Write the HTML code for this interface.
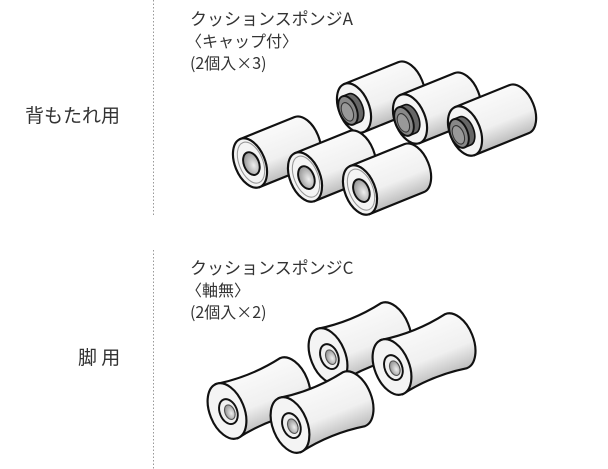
<!DOCTYPE html>
<html><head><meta charset="utf-8"><style>
html,body{margin:0;padding:0;background:#fff;}
body{width:608px;height:469px;overflow:hidden;position:relative;color:#333;}
</style></head><body>
<svg width="608" height="469" viewBox="0 0 608 469" xmlns="http://www.w3.org/2000/svg" style="position:absolute;left:0;top:0" font-family="'Noto Sans CJK JP','Liberation Sans',sans-serif">
<defs>
<linearGradient id="bg" x1="0" y1="0" x2="0" y2="1">
<stop offset="0" stop-color="#fafafa"/><stop offset="0.6" stop-color="#f0f0f0"/><stop offset="1" stop-color="#bdbdbd"/></linearGradient>
<radialGradient id="hole" cx="0.6" cy="0.6" r="0.7"><stop offset="0" stop-color="#eee"/><stop offset="1" stop-color="#888"/></radialGradient>
<g id="cyl">
<path d="M0,-24 L54,-24 A14,24 0 0 1 54,24 L0,24 Z" fill="url(#bg)" stroke="#111" stroke-width="2"/>
<ellipse cx="0" cy="0" rx="14" ry="24" fill="#f4f4f4" stroke="#111" stroke-width="2"/>
<ellipse cx="1" cy="0" rx="11" ry="20" fill="none" stroke="#999" stroke-width="1"/>
<ellipse cx="1" cy="1" rx="7" ry="11" fill="url(#hole)" stroke="#111" stroke-width="1.8"/>
</g>
<g id="cap">
<path d="M0,-24 L54,-24 A14,24 0 0 1 54,24 L0,24 Z" fill="url(#bg)" stroke="#111" stroke-width="2"/>
<ellipse cx="0" cy="0" rx="14" ry="24" fill="#f4f4f4" stroke="#111" stroke-width="2"/>
<path d="M-6,-14 L0,-14 A8,14 0 0 1 0,14 L-6,14 Z" fill="#666" stroke="#111" stroke-width="1.5"/>
<ellipse cx="-6" cy="0" rx="8" ry="14" fill="#888" stroke="#111" stroke-width="1.8"/>
<ellipse cx="-7" cy="1" rx="5" ry="9" fill="#999" stroke="#333" stroke-width="1"/>
</g>
<g id="sp">
<path d="M0,-27 Q32,-21 64,-27 A16,27 0 0 1 64,27 Q32,21 0,27 Z" fill="url(#bg)" stroke="#111" stroke-width="2"/>
<ellipse cx="0" cy="0" rx="16" ry="27" fill="#f4f4f4" stroke="#111" stroke-width="2"/>
<ellipse cx="1" cy="1" rx="8" ry="12" fill="#f0f0f0" stroke="#111" stroke-width="1.8"/>
<ellipse cx="2" cy="2" rx="4.5" ry="7" fill="url(#hole)" stroke="#555" stroke-width="1"/>
</g>
</defs>
<line x1="153.5" y1="0" x2="153.5" y2="216" stroke="#999" stroke-width="1" stroke-dasharray="1.5,2"/>
<line x1="153.5" y1="250" x2="153.5" y2="469" stroke="#999" stroke-width="1" stroke-dasharray="1.5,2"/>
<text x="25" y="122" font-size="19" fill="#333">背もたれ用</text>
<text x="78" y="364" font-size="19" fill="#333">脚 用</text>
<text x="190" y="25" font-size="17" fill="#333">クッションスポンジA</text>
<text x="186" y="47" font-size="16" fill="#333">〈キャップ付〉</text>
<text x="190" y="69" font-size="16" fill="#333">(2個入×3)</text>
<text x="190" y="274" font-size="17" fill="#333">クッションスポンジC</text>
<text x="186" y="296" font-size="16" fill="#333">〈軸無〉</text>
<text x="190" y="318" font-size="16" fill="#333">(2個入×2)</text>
<use href="#cap" transform="translate(354,108) rotate(-22) scale(1.08)"/>
<use href="#cap" transform="translate(410,119) rotate(-22) scale(1.08)"/>
<use href="#cap" transform="translate(465,131) rotate(-22) scale(1.08)"/>
<use href="#cyl" transform="translate(250,163) rotate(-22) scale(1.08)"/>
<use href="#cyl" transform="translate(305,177) rotate(-22) scale(1.08)"/>
<use href="#cyl" transform="translate(360,190) rotate(-22) scale(1.08)"/>
<use href="#sp" transform="translate(328,356) rotate(-22) scale(1.08)"/>
<use href="#sp" transform="translate(392,367) rotate(-22) scale(1.08)"/>
<use href="#sp" transform="translate(227,411) rotate(-22) scale(1.08)"/>
<use href="#sp" transform="translate(290,425) rotate(-22) scale(1.08)"/>
</svg>
</body></html>
